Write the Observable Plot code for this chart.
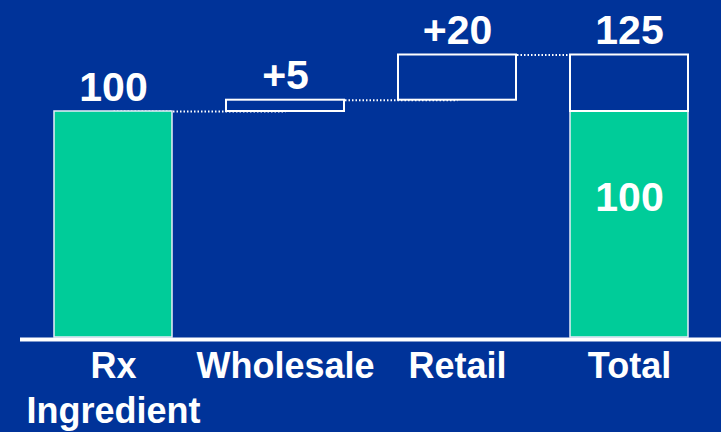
<!DOCTYPE html>
<html>
<head>
<meta charset="utf-8">
<script src="https://cdn.jsdelivr.net/npm/d3@7"></script>
<script src="https://cdn.jsdelivr.net/npm/@observablehq/plot@0.6"></script>
<style>
  html, body { margin: 0; padding: 0; background: #003399; }
  #chart svg { display: block; }
</style>
</head>
<body>
<div id="chart"></div>
<script>
// Data
const categories = ["Rx Ingredient", "Wholesale", "Retail", "Total"];
const tickLabels = ["Rx\nIngredient", "Wholesale", "Retail", "Total"];
const stepValues = [100, 5, 20];          // Rx base, wholesale add, retail add
const valueLabels = ["100", "+5", "+20", "125"];
const totalBaseLabel = "100";

// Build waterfall table
const rows = [];
let run = 0;
stepValues.forEach((v, i) => {
  rows.push({cat: categories[i], y1: run, y2: run + v, label: valueLabels[i]});
  run += v;
});
const total = run;
const base = stepValues[0];
const greenRows = [rows[0], {cat: categories[3], y1: 0, y2: base}];
const boxRows = [rows[1], rows[2], {cat: categories[3], y1: base, y2: total}];
const labelRows = [...rows, {cat: categories[3], y2: total, label: valueLabels[3]}];
const links = rows.map((r, i) => ({from: r.cat, to: categories[i + 1], level: r.y2}));

const font = "'Liberation Sans', Arial, Helvetica, sans-serif";

const chart = Plot.plot({
  width: 721,
  height: 432,
  marginTop: 54.5,
  marginBottom: 95,
  marginLeft: 20,
  marginRight: 0,
  style: {background: "#003399", fontFamily: font, color: "white"},
  x: {domain: categories, range: [53.5, 689], paddingInner: 0.316, paddingOuter: 0, axis: null},
  y: {domain: [0, total], axis: null},
  marks: [
    Plot.link(links, {x1: "from", x2: "to", y1: "level", y2: "level", stroke: "white", strokeWidth: 2, strokeDasharray: "1.5,2"}),
    Plot.barY(greenRows, {x: "cat", y1: "y1", y2: "y2", fill: "#00CC99", stroke: "#e8eef8", strokeWidth: 1.5}),
    Plot.barY(boxRows, {x: "cat", y1: "y1", y2: "y2", fill: "#003399", stroke: "white", strokeWidth: 2}),
    Plot.ruleY([0], {stroke: "white", strokeWidth: 4, dy: 2}),
    Plot.text(labelRows, {x: "cat", y: "y2", text: "label", lineAnchor: "bottom", dy: -11, fill: "white", fontSize: 41, fontWeight: "bold"}),
    Plot.text([totalBaseLabel], {x: () => categories[3], y: () => base, text: d => d, lineAnchor: "bottom", dy: 99, fill: "white", fontSize: 41, fontWeight: "bold"}),
    Plot.text(tickLabels, {x: (d, i) => categories[i], frameAnchor: "bottom", text: d => d, lineAnchor: "top", dy: 9, lineHeight: 1.25, fill: "white", fontSize: 36, fontWeight: "bold"})
  ]
});
document.getElementById("chart").appendChild(chart);
</script>
</body>
</html>
